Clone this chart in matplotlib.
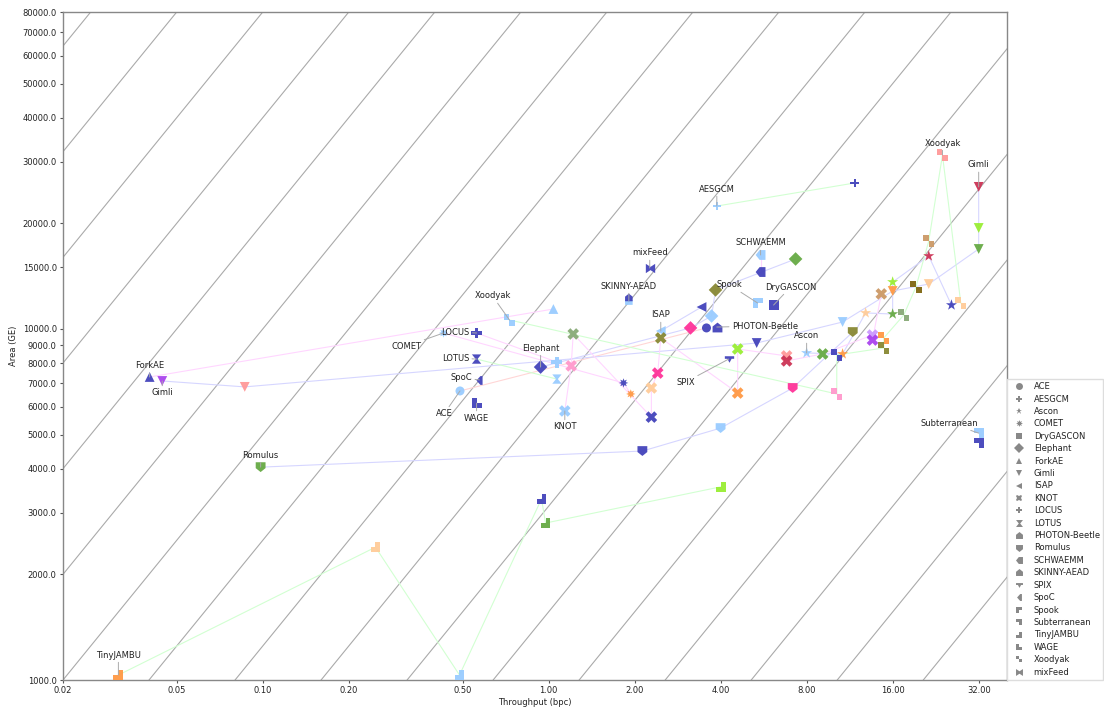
import matplotlib
matplotlib.use('Agg')
import matplotlib.pyplot as plt
from matplotlib.lines import Line2D

# palette used by the implementations
DARK = '#4343bb'
LBLUE = '#99ccff'
ORANGE = '#ff9944'
PEACH = '#ffcc99'
GREEN = '#66aa44'
LIME = '#99ee33'
OLIVE = '#888833'
BROWN = '#7f6611'
PINK = '#ff99cc'
HOT = '#ff3399'
RED = '#cc3355'
SALMON = '#ff9999'
PURPLE = '#aa44ee'
VIOLET = '#cc99ff'
SAGE = '#88aa77'
TAN = '#cc9966'

LINE_PINK = '#ffd6ff'
LINE_BLUE = '#d6d6ff'
LINE_GREEN = '#d2ffd2'
LINE_RED = '#ffd6d6'

# throughput (bpc), area (GE)
ace_tp = [0.49, 3.57]
ace_area = [6660, 10070]
ace_col = [LBLUE, DARK]

aesgcm_tp = [3.88, 11.78]
aesgcm_area = [22400, 26060]
aesgcm_col = [LBLUE, DARK]

ascon_tp = [8.0, 10.69, 12.87, 16.0, 16.0, 21.4, 25.7]
ascon_area = [8545, 8490, 11110, 11030, 13610, 16140, 11700]
ascon_col = [LBLUE, ORANGE, PEACH, GREEN, LIME, RED, DARK]

comet_tp = [0.429, 1.83, 1.94]
comet_area = [9740, 7020, 6530]
comet_col = [LBLUE, DARK, ORANGE]

drygascon_tp = [6.13]
drygascon_area = [11700]
drygascon_col = [DARK]

elephant_tp = [0.938, 3.14, 3.72, 3.84, 7.32]
elephant_area = [7790, 10070, 10890, 12920, 15830]
elephant_col = [DARK, HOT, LBLUE, OLIVE, GREEN]

forkae_tp = [0.0402, 1.04]
forkae_area = [7300, 11400]
forkae_col = [DARK, LBLUE]

gimli_tp = [0.0445, 0.0865, 5.35, 10.69, 16.0, 21.4, 32.0, 32.0, 32.0]
gimli_area = [7110, 6840, 9120, 10470, 12830, 13430, 16900, 19400, 25400]
gimli_col = [PURPLE, SALMON, DARK, LBLUE, ORANGE, PEACH, GREEN, LIME, RED]

isap_tp = [2.47, 3.43]
isap_area = [9870, 11550]
isap_col = [LBLUE, DARK]

knot_tp = [1.14, 1.20, 1.22, 2.29, 2.29, 2.41, 2.47, 4.59, 4.59, 6.81, 6.81, 9.10, 13.6, 13.6, 14.6]
knot_area = [5840, 7850, 9680, 5610, 6790, 7490, 9430, 6570, 8770, 8380, 8110, 8490, 9610, 9300, 12590]
knot_col = [LBLUE, PINK, SAGE, DARK, PEACH, HOT, OLIVE, ORANGE, LIME, SALMON, RED, GREEN, VIOLET, PURPLE, TAN]

locus_tp = [0.56, 1.07]
locus_area = [9740, 8050]
locus_col = [DARK, LBLUE]

lotus_tp = [0.56, 1.07]
lotus_area = [8210, 7200]
lotus_col = [DARK, LBLUE]

photon_tp = [3.88]
photon_area = [10130]
photon_col = [DARK]

romulus_tp = [0.0983, 2.13, 4.0, 7.15, 11.6]
romulus_area = [4040, 4490, 5220, 6790, 9800]
romulus_col = [GREEN, DARK, LBLUE, HOT, OLIVE]

schwaemm_tp = [5.52, 5.52]
schwaemm_area = [16250, 14530]
schwaemm_col = [LBLUE, DARK]

skinny_tp = [1.91, 1.91]
skinny_area = [12010, 12300]
skinny_col = [LBLUE, DARK]

spix_tp = [4.27]
spix_area = [8210]
spix_col = [DARK]

spoc_tp = [0.573]
spoc_area = [7160]
spoc_col = [DARK]

spook_tp = [5.39]
spook_area = [11860]
spook_col = [LBLUE]

subterranean_tp = [32.0, 32.0]
subterranean_area = [5050, 4730]
subterranean_col = [LBLUE, DARK]

tinyjambu_tp = [0.03125, 0.248, 0.488, 0.945, 0.976, 4.0]
tinyjambu_area = [1033, 2390, 1033, 3280, 2800, 3550]
tinyjambu_col = [ORANGE, PEACH, LBLUE, DARK, GREEN, LIME]

wage_tp = [0.56]
wage_area = [6150]
wage_col = [DARK]

xoodyak_tp = [0.73, 10.2, 10.2, 14.9, 14.9, 17.5, 19.3, 21.4, 23.9, 27.7]
xoodyak_area = [10610, 6530, 8430, 8830, 9430, 10960, 13170, 17800, 31300, 11860]
xoodyak_col = [LBLUE, PINK, DARK, OLIVE, ORANGE, SAGE, BROWN, TAN, SALMON, PEACH]

mixfeed_tp = [2.26]
mixfeed_area = [14920]
mixfeed_col = [DARK]

x_ticks = [0.02, 0.05, 0.10, 0.20, 0.50, 1.00, 2.00, 4.00, 8.00, 16.00, 32.00]
y_ticks = [1000, 2000, 3000, 4000, 5000, 6000, 7000, 8000, 9000, 10000, 15000,
           20000, 30000, 40000, 50000, 60000, 70000, 80000]

# custom marker outlines
HOUSE = [(-1, -1), (1, -1), (1, 0.2), (0, 1), (-1, 0.2)]
SHIELD = [(-1, 1), (1, 1), (1, -0.2), (0, -1), (-1, -0.2)]
LEFT_PENT = [(1, -1), (1, 1), (-0.2, 1), (-1, 0), (-0.2, -1)]
HOURGLASS = [(-1, 1), (1, 1), (0.2, 0), (1, -1), (-1, -1), (-0.2, 0)]
BOWTIE = [(-1, -1), (0, -0.35), (1, -1), (1, 1), (0, 0.35), (-1, 1)]
THIN_PLUS = [(-0.25, -1), (0.25, -1), (0.25, -0.25), (1, -0.25), (1, 0.25), (0.25, 0.25),
             (0.25, 1), (-0.25, 1), (-0.25, 0.25), (-1, 0.25), (-1, -0.25), (-0.25, -0.25)]
TEE = [(-1, 0.7), (1, 0.7), (1, 0.15), (0.45, 0.15), (0, -0.7), (-0.45, 0.15), (-1, 0.15)]
SPOC = [(0.7, -1), (0.7, 1), (0.2, 1), (-0.7, 0), (0.2, -1)]
SPOOK = [(-1, -1), (-1, 1), (1, 1), (1, 0), (0, 0), (0, -1)]
SUBTER = [(-1, 1), (1, 1), (1, -1), (0, -1), (0, 0), (-1, 0)]
JAMBU = [(-1, -1), (1, -1), (1, 1), (0, 1), (0, 0), (-1, 0)]
WAGE_M = [(-1, -1), (1, -1), (1, 0), (0, 0), (0, 1), (-1, 1)]
XOOD = [(-1, 1), (0, 1), (0, 0), (1, 0), (1, -1), (0, -1), (0, 0), (-1, 0)]

fig = plt.figure(figsize=(11.04, 7.08), dpi=100)
ax = fig.add_axes([63 / 1104, 28 / 708, 944 / 1104, 668 / 708])
ax.set_xscale('log')
ax.set_yscale('log')
ax.set_xlim(0.02, 40.2)
ax.set_ylim(1000, 80000)

# guide lines of constant area per throughput
for k in range(-10, 7):
    ratio = 50000 * 2.0 ** k
    ax.plot([0.02, 40.2], [0.02 * ratio, 40.2 * ratio], color='#aaaaaa', lw=0.8, zorder=1)


def draw_scheme(tp, area, cols, marker, size=50, line=None):
    if line:
        ax.plot(tp, area, color=line, lw=0.8, zorder=2)
    ax.scatter(tp, area, c=cols, marker=marker, s=size, linewidths=0, alpha=0.95, zorder=3)


# name, marker for the legend
legend_names = ['ACE', 'AESGCM', 'Ascon', 'COMET', 'DryGASCON', 'Elephant', 'ForkAE', 'Gimli',
                'ISAP', 'KNOT', 'LOCUS', 'LOTUS', 'PHOTON-Beetle', 'Romulus', 'SCHWAEMM',
                'SKINNY-AEAD', 'SPIX', 'SpoC', 'Spook', 'Subterranean', 'TinyJAMBU', 'WAGE',
                'Xoodyak', 'mixFeed']
legend_markers = ['o', THIN_PLUS, '*', (8, 1, 0), 's', 'D', '^', 'v', '<', 'X', 'P', HOURGLASS,
                  HOUSE, SHIELD, LEFT_PENT, HOUSE, TEE, SPOC, SPOOK, SUBTER, JAMBU, WAGE_M,
                  XOOD, BOWTIE]

draw_scheme(ace_tp, ace_area, ace_col, 'o', 42, LINE_RED)
draw_scheme(aesgcm_tp, aesgcm_area, aesgcm_col, THIN_PLUS, 36, LINE_GREEN)
draw_scheme(ascon_tp, ascon_area, ascon_col, '*', 70, LINE_BLUE)
draw_scheme(comet_tp, comet_area, comet_col, (8, 1, 0), 45, LINE_PINK)
draw_scheme(drygascon_tp, drygascon_area, drygascon_col, 's', 55)
draw_scheme(elephant_tp, elephant_area, elephant_col, 'D', 48, LINE_BLUE)
draw_scheme(forkae_tp, forkae_area, forkae_col, '^', 50, LINE_PINK)
draw_scheme(gimli_tp, gimli_area, gimli_col, 'v', 50, LINE_BLUE)
draw_scheme(isap_tp, isap_area, isap_col, '<', 50, LINE_BLUE)
draw_scheme(knot_tp, knot_area, knot_col, 'X', 70, LINE_PINK)
draw_scheme(locus_tp, locus_area, locus_col, 'P', 62, LINE_PINK)
draw_scheme(lotus_tp, lotus_area, lotus_col, HOURGLASS, 45, LINE_GREEN)
draw_scheme(photon_tp, photon_area, photon_col, HOUSE, 50)
draw_scheme(romulus_tp, romulus_area, romulus_col, SHIELD, 50, LINE_BLUE)
draw_scheme(schwaemm_tp, schwaemm_area, schwaemm_col, LEFT_PENT, 50, LINE_PINK)
draw_scheme(skinny_tp, skinny_area, skinny_col, HOUSE, 30)
draw_scheme(spix_tp, spix_area, spix_col, TEE, 45)
draw_scheme(spoc_tp, spoc_area, spoc_col, SPOC, 40)
draw_scheme(spook_tp, spook_area, spook_col, SPOOK, 50)
draw_scheme(subterranean_tp, subterranean_area, subterranean_col, SUBTER, 50)
draw_scheme(tinyjambu_tp, tinyjambu_area, tinyjambu_col, JAMBU, 50, LINE_GREEN)
draw_scheme(wage_tp, wage_area, wage_col, WAGE_M, 50)
draw_scheme(xoodyak_tp, xoodyak_area, xoodyak_col, XOOD, 65, LINE_GREEN)
draw_scheme(mixfeed_tp, mixfeed_area, mixfeed_col, BOWTIE, 45)


def note(text, tp, area, dx, dy):
    ax.annotate(text, xy=(tp, area), xytext=(dx, dy), textcoords='offset pixels',
                ha='center', va='center', fontsize=6, color='#222222', zorder=5,
                arrowprops=dict(arrowstyle='-', color='#aaaaaa', lw=0.7, shrinkA=0, shrinkB=0))


# labels, offset from their point in pixels
note('Xoodyak', xoodyak_tp[8], xoodyak_area[8], 0, 12)
note('Gimli', gimli_tp[8], gimli_area[8], 0, 22)
note('AESGCM', aesgcm_tp[0], aesgcm_area[0], 0, 17)
note('SCHWAEMM', schwaemm_tp[0], schwaemm_area[0], 0, 12)
note('mixFeed', mixfeed_tp[0], mixfeed_area[0], 0, 15)
note('SKINNY-AEAD', skinny_tp[0], skinny_area[0], 0, 15)
note('Spook', spook_tp[0], spook_area[0], -28, 18)
note('DryGASCON', drygascon_tp[0], drygascon_area[0], 17, 18)
note('Xoodyak', xoodyak_tp[0], xoodyak_area[0], -17, 24)
note('ISAP', isap_tp[0], isap_area[0], 0, 16)
note('LOCUS', locus_tp[0], locus_area[0], -21, 1)
note('PHOTON-Beetle', photon_tp[0], photon_area[0], 48, 1)
note('Ascon', ascon_tp[0], ascon_area[0], 0, 17)
note('COMET', comet_tp[0], comet_area[0], -37, -13)
note('Elephant', elephant_tp[0], elephant_area[0], 0, 19)
note('LOTUS', lotus_tp[0], lotus_area[0], -21, 1)
note('SpoC', spoc_tp[0], spoc_area[0], -18, 2)
note('ForkAE', forkae_tp[0], forkae_area[0], 0, 11)
note('Gimli', gimli_tp[0], gimli_area[0], 0, -12)
note('ACE', ace_tp[0], ace_area[0], -16, -23)
note('WAGE', wage_tp[0], wage_area[0], 0, -15)
note('KNOT', knot_tp[0], knot_area[0], 0, -16)
note('SPIX', spix_tp[0], spix_area[0], -43, -23)
note('Romulus', romulus_tp[0], romulus_area[0], 0, 12)
note('Subterranean', subterranean_tp[0], subterranean_area[0], -29, 10)
note('TinyJAMBU', tinyjambu_tp[0], tinyjambu_area[0], 0, 20)

ax.set_xticks(x_ticks)
ax.set_xticklabels([f'{v:.2f}' for v in x_ticks])
ax.set_yticks(y_ticks)
ax.set_yticklabels([f'{v:.1f}' for v in y_ticks])
ax.minorticks_off()
ax.tick_params(labelsize=6, length=2.5, width=0.8, pad=2, color='#555555', labelcolor='#222222')
ax.set_xlabel('Throughput (bpc)', fontsize=6, labelpad=2, color='#222222')
ax.set_ylabel('Area (GE)', fontsize=6, labelpad=3, color='#222222')
for side in ax.spines.values():
    side.set_color('#888888')
    side.set_linewidth(1.0)

handles = [Line2D([], [], ls='none', marker=m, color='#888888', markeredgewidth=0, markersize=5)
           for m in legend_markers]
ax.legend(handles, legend_names, loc='lower left', bbox_to_anchor=(1.0, 0.0), borderaxespad=0,
          fontsize=6, fancybox=False, edgecolor='#dddddd', framealpha=1, labelspacing=0.41,
          labelcolor='#222222')

fig.savefig('out.png', dpi=100)
